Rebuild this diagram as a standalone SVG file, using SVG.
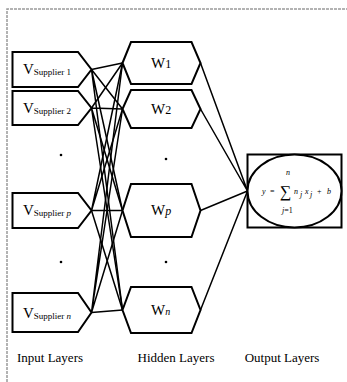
<svg xmlns="http://www.w3.org/2000/svg" width="347" height="382" viewBox="0 0 347 382">
<style>
.box{fill:#fff;stroke:#000;stroke-width:2;stroke-linejoin:miter}
.ln{stroke:#000;stroke-width:1.5;fill:none}
.t{font-family:"Liberation Serif","Times New Roman",serif;fill:#000}
.big{font-size:15px}
.sub{font-size:9px}
.cap{font-size:13px;text-anchor:middle}
.f{font-size:8px;font-style:italic}
</style>
<rect width="347" height="382" fill="#fff"/>
<path d="M7,382 V9 H347" fill="none" stroke="#9a9a9a" stroke-width="1.5" stroke-dasharray="3,1"/>
<g id="connectors">
<path class="ln" d="M91.5,69.5 L122.5,63 M91.5,69.5 L122.5,109 M91.5,69.5 L122.5,210.5 M91.5,69.5 L122.5,310"/>
<path class="ln" d="M91.5,108 L122.5,63 M91.5,108 L122.5,109 M91.5,108 L122.5,210.5 M91.5,108 L122.5,310"/>
<path class="ln" d="M91.5,210.5 L122.5,63 M91.5,210.5 L122.5,109 M91.5,210.5 L122.5,210.5 M91.5,210.5 L122.5,310"/>
<path class="ln" d="M91.5,312.5 L122.5,63 M91.5,312.5 L122.5,109 M91.5,312.5 L122.5,210.5 M91.5,312.5 L122.5,310"/>
<path class="ln" d="M200.5,63 L247.5,191 M200.5,109 L247.5,191 M200.5,210.5 L247.5,191 M200.5,310 L247.5,191"/>
</g>
<g id="v1"><path class="box" d="M12.5,52 H78 L91.5,69.5 L78,87 H12.5 Z"/><text class="t big" x="23" y="74">V<tspan class="sub" dy="1">Supplier 1</tspan></text></g>
<g id="v2"><path class="box" d="M12.5,91 H78 L91.5,108 L78,125 H12.5 Z"/><text class="t big" x="23" y="113">V<tspan class="sub" dy="1">Supplier 2</tspan></text></g>
<g id="vp"><path class="box" d="M12.5,193 H78 L91.5,210.5 L78,228 H12.5 Z"/><text class="t big" x="23" y="215">V<tspan class="sub" dy="1">Supplier <tspan font-style="italic">p</tspan></tspan></text></g>
<g id="vn"><path class="box" d="M12.5,293 H78 L91.5,312.5 L78,332 H12.5 Z"/><text class="t big" x="23" y="318">V<tspan class="sub" dy="1">Supplier <tspan font-style="italic">n</tspan></tspan></text></g>
<g id="w1"><path class="box" d="M122.5,63 L131,42 H191.5 L200.5,63 L191.5,84 H131 Z"/><text class="t big" x="151" y="68">W<tspan font-size="12">1</tspan></text></g>
<g id="w2"><path class="box" d="M122.5,109 L131,90 H191.5 L200.5,109 L191.5,128 H131 Z"/><text class="t big" x="151" y="114">W<tspan font-size="12">2</tspan></text></g>
<g id="wp"><path class="box" d="M122.5,210.5 L131,184 H191.5 L200.5,210.5 L191.5,237 H131 Z"/><text class="t big" x="151" y="215">W<tspan font-size="12" font-style="italic">p</tspan></text></g>
<g id="wn"><path class="box" d="M122.5,310 L131,287 H191.5 L200.5,310 L191.5,333 H131 Z"/><text class="t big" x="151" y="315">W<tspan font-size="10" font-style="italic">n</tspan></text></g>
<g id="dots" fill="#000"><circle cx="61" cy="155" r="1.3"/><circle cx="61" cy="262" r="1.3"/><circle cx="166" cy="159" r="1.3"/><circle cx="166" cy="262" r="1.3"/></g>
<g id="output">
<rect class="box" x="247.5" y="154.5" width="94" height="73"/>
<ellipse class="box" cx="294.5" cy="191" rx="47" ry="36.5"/>
<text class="t f" x="286" y="175">n</text>
<text class="t f" x="262" y="194">y</text>
<text class="t" x="270" y="194" font-size="8">=</text>
<text class="t" x="280" y="197" font-size="16">∑</text>
<text class="t f" x="294" y="194">n</text>
<text class="t f" x="300" y="197">j</text>
<text class="t f" x="305" y="194">x</text>
<text class="t f" x="310" y="197">j</text>
<text class="t" x="317" y="194" font-size="8">+</text>
<text class="t f" x="327" y="194">b</text>
<text class="t f" x="282" y="213">j<tspan font-style="normal">=1</tspan></text>
</g>
<g id="captions">
<text class="t cap" x="50" y="362">Input Layers</text>
<text class="t cap" x="176" y="362">Hidden Layers</text>
<text class="t cap" x="282" y="362">Output Layers</text>
</g>
</svg>
